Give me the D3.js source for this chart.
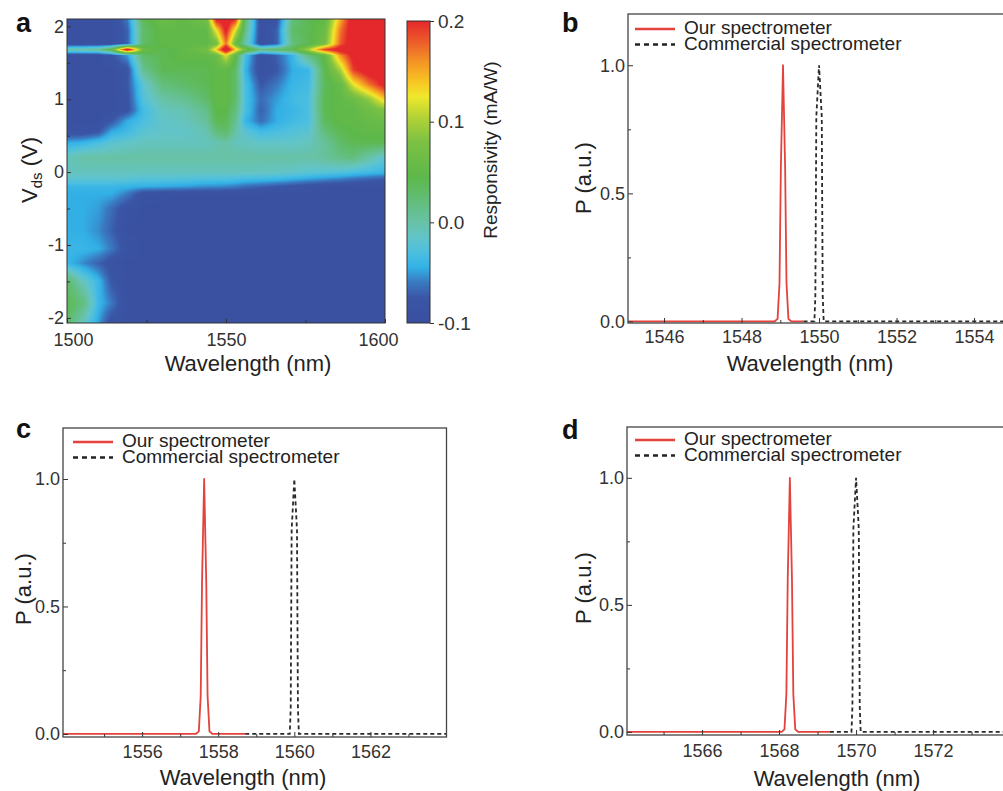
<!DOCTYPE html>
<meta charset="utf-8">
<script src="https://cdn.jsdelivr.net/npm/d3@7"></script>
<style>
	body{margin:0;background:#fff;}
	svg{font-family:"Liberation Sans",Arial,Helvetica,sans-serif;}
</style>
<svg id="fig" width="1003" height="791"></svg>
<script>
// ---------- panel a: responsivity map (grid) ----------
var wavelengths = [1500,1505,1510,1514,1519,1524,1530,1537,1544,1547,1550,1553,1556,1561,1566,1571,1576,1581,1586,1590,1595,1600]
var vds = [2.1,1.95,1.76,1.68,1.6,1.4,1.2,1.0,0.85,0.7,0.55,0.4,0.2,0.0,-0.1,-0.2,-0.3,-0.5,-0.8,-1.05,-1.25,-1.5,-1.8,-2.07]
// one row per vds value, one column per wavelength (mA/W)
var responsivity = [
	[-.09,-.09,-.09,-.09,-.06,.04,.06,.05,.07,.21,.22,.2,.03,-.09,-.08,.02,.04,.05,.15,.22,.22,.22],
	[-.09,-.09,-.09,-.09,-.07,.03,.05,.05,.05,.13,.21,.12,.02,-.09,-.07,.03,.04,.06,.17,.22,.22,.22],
	[-.09,-.09,-.09,-.09,-.07,.03,.05,.05,.05,.07,.17,.06,0,-.09,-.07,.02,.04,.07,.18,.22,.22,.22],
	[0,0,.01,.05,.23,.06,.04,.05,.07,.14,.24,.14,.07,.02,.03,.04,.1,.19,.22,.22,.22,.22],
	[-.09,-.09,-.09,-.08,-.05,.03,.04,.05,.05,.06,.12,.05,-.03,-.09,-.07,-.04,.02,.05,.16,.21,.22,.22],
	[-.09,-.09,-.09,-.09,-.08,.01,.04,.04,.04,.05,.05,.03,-.04,-.09,-.075,-.045,-.04,.04,.1,.19,.22,.22],
	[-.09,-.09,-.09,-.09,-.075,-.02,.02,.03,.04,.05,.05,.03,-.03,-.075,-.06,-.04,-.035,.035,.055,.12,.17,.21],
	[-.09,-.09,-.09,-.09,-.08,-.025,0,.01,.03,.05,.05,.03,-.03,-.065,-.05,-.035,-.03,.04,.05,.06,.09,.14],
	[-.09,-.09,-.09,-.09,-.08,-.035,-.01,-.005,.015,.045,.045,.02,-.03,-.07,-.045,-.04,-.03,.04,.05,.05,.065,.08],
	[-.09,-.09,-.09,-.075,-.045,-.03,-.015,-.01,.005,.04,.04,.01,-.04,-.065,-.045,-.035,-.03,.035,.05,.05,.055,.06],
	[-.085,-.085,-.075,-.045,-.035,-.02,-.015,-.015,-.005,.02,.03,0,-.02,-.035,-.03,-.025,-.02,.02,.04,.045,.05,.05],
	[-.045,-.04,-.03,-.02,-.015,-.01,-.01,-.01,-.01,-.005,0,-.01,-.01,-.015,-.015,-.015,-.01,.005,.03,.04,.04,.04],
	[-.01,0,0,0,0,0,0,0,0,0,0,0,0,0,0,0,0,.005,.015,.02,0,-.02],
	[-.01,-.01,-.01,-.01,-.01,-.01,-.01,-.01,-.01,-.01,-.01,-.01,-.01,-.01,-.012,-.015,-.02,-.022,-.025,-.03,-.035,-.04],
	[-.02,-.02,-.02,-.02,-.022,-.025,-.025,-.027,-.03,-.03,-.03,-.032,-.035,-.037,-.04,-.045,-.05,-.055,-.06,-.065,-.07,-.075],
	[-.04,-.04,-.04,-.04,-.042,-.045,-.047,-.05,-.055,-.055,-.057,-.06,-.065,-.07,-.075,-.08,-.085,-.09,-.09,-.09,-.09,-.09],
	[-.045,-.045,-.045,-.045,-.06,-.085,-.088,-.09,-.09,-.09,-.09,-.09,-.09,-.09,-.09,-.09,-.09,-.09,-.09,-.09,-.09,-.09],
	[-.045,-.045,-.05,-.065,-.085,-.09,-.09,-.09,-.09,-.09,-.09,-.09,-.09,-.09,-.09,-.09,-.09,-.09,-.09,-.09,-.09,-.09],
	[-.045,-.045,-.055,-.07,-.09,-.09,-.09,-.09,-.09,-.09,-.09,-.09,-.09,-.09,-.09,-.09,-.09,-.09,-.09,-.09,-.09,-.09],
	[-.04,-.04,-.045,-.06,-.085,-.09,-.09,-.09,-.09,-.09,-.09,-.09,-.09,-.09,-.09,-.09,-.09,-.09,-.09,-.09,-.09,-.09],
	[-.04,-.055,-.07,-.085,-.09,-.09,-.09,-.09,-.09,-.09,-.09,-.09,-.09,-.09,-.09,-.09,-.09,-.09,-.09,-.09,-.09,-.09],
	[.03,-.01,-.04,-.075,-.09,-.09,-.09,-.09,-.09,-.09,-.09,-.09,-.09,-.09,-.09,-.09,-.09,-.09,-.09,-.09,-.09,-.09],
	[.04,.02,-.04,-.06,-.09,-.09,-.09,-.09,-.09,-.09,-.09,-.09,-.09,-.09,-.09,-.09,-.09,-.09,-.09,-.09,-.09,-.09],
	[.03,-.01,-.05,-.085,-.09,-.09,-.09,-.09,-.09,-.09,-.09,-.09,-.09,-.09,-.09,-.09,-.09,-.09,-.09,-.09,-.09,-.09]
]
var colorStops = [-0.1,-0.075,-0.06,-0.045,-0.03,-0.015,0.0,0.02,0.045,0.08,0.105,0.125,0.14,0.16,0.18,0.2]
var colorHex = ["#3a4e9e","#3a56a6","#3a78c0","#32b0e6","#4cbfe0","#62c4c8","#68c2a6","#62be7c","#5db84a","#7cc143","#b5d335","#efe82c","#f8c423","#f39325","#ec5a2a","#e5282b"]
var cbarTicks = [-0.1,0.0,0.1,0.2]
var vdsTicks = [-2,-1,0,1,2]
var vdsMinor = [-1.5,-0.5,0.5,1.5]
var wlTicksA = [1500,1550,1600]
var wlMinorA = [1525,1575]

// ---------- panels b, c, d: spectra ----------
var bOurWl = [1545.07,1548.85,1548.93,1548.98,1549.015,1549.07,1549.125,1549.16,1549.21,1549.29,1549.6]
var bOurP  = [0,0,0.01,0.15,0.6,1,0.6,0.15,0.01,0,0]
var bComWl = [1549.6,1549.88,1549.905,1549.93,1550.0,1550.07,1550.095,1550.12,1555.07]
var bComP  = [0,0,0.1,0.8,1,0.8,0.1,0,0]
var cOurWl = [1553.92,1557.41,1557.49,1557.54,1557.575,1557.63,1557.685,1557.72,1557.77,1557.85,1558.71]
var cOurP  = [0,0,0.01,0.15,0.6,1,0.6,0.15,0.01,0,0]
var cComWl = [1558.71,1559.88,1559.905,1559.93,1560.0,1560.07,1560.095,1560.12,1564.0]
var cComP  = [0,0,0.1,0.8,1,0.8,0.1,0,0]
var dOurWl = [1564.05,1568.06,1568.14,1568.19,1568.225,1568.28,1568.335,1568.37,1568.42,1568.5,1569.32]
var dOurP  = [0,0,0.01,0.15,0.6,1,0.6,0.15,0.01,0,0]
var dComWl = [1569.32,1569.88,1569.905,1569.93,1570.0,1570.07,1570.095,1570.12,1574.05]
var dComP  = [0,0,0.1,0.8,1,0.8,0.1,0,0]
var pTicks = [0,0.5,1.0]
var pMinor = [0.25,0.75]

var svg = d3.select("#fig")
var RED = "#e3423d"

function panelLabel(t,x,y){
	svg.append("text").attr("x",x).attr("y",y).attr("font-size",27).attr("font-weight","bold").attr("fill","#111").text(t)
}
function styleAxis(g,fs){
	g.attr("font-family",null).attr("font-size",null)
	g.select(".domain").remove()
	g.selectAll("line").attr("stroke","#333").attr("stroke-width",1)
	g.selectAll("text").attr("font-size",fs||18).attr("fill","#333")
}

// ---- draw panel a ----
var xA = d3.scaleLinear().domain([1500,1600]).range([67,385])
var yA = d3.scaleLinear().domain([-2.07,2.1]).range([323,19])
var color = d3.scaleLinear().domain(colorStops).range(colorHex).clamp(true)

function sample(lam,v){
	var j = d3.bisectRight(wavelengths,lam)-1
	j = Math.max(0,Math.min(wavelengths.length-2,j))
	var tx = (lam-wavelengths[j])/(wavelengths[j+1]-wavelengths[j])
	var i = 0
	while(i<vds.length-2 && vds[i+1]>v) i++
	var ty = (vds[i]-v)/(vds[i]-vds[i+1])
	tx = Math.max(0,Math.min(1,tx)); ty = Math.max(0,Math.min(1,ty))
	var a = responsivity[i][j], b = responsivity[i][j+1]
	var c = responsivity[i+1][j], d = responsivity[i+1][j+1]
	return (a*(1-tx)+b*tx)*(1-ty)+(c*(1-tx)+d*tx)*ty
}

var W = 318, H = 304
var cv = document.createElement("canvas")
cv.width = W; cv.height = H
var ctx = cv.getContext("2d")
var img = ctx.createImageData(W,H)
for(var py=0; py<H; py++){
	for(var px=0; px<W; px++){
		var col = d3.rgb(color(sample(xA.invert(67+px+0.5),yA.invert(19+py+0.5))))
		var k = (py*W+px)*4
		img.data[k]=col.r; img.data[k+1]=col.g; img.data[k+2]=col.b; img.data[k+3]=255
	}
}
ctx.putImageData(img,0,0)
svg.append("image").attr("x",67).attr("y",19).attr("width",W).attr("height",H)
	.attr("preserveAspectRatio","none").attr("href",cv.toDataURL())

var gxA = svg.append("g").attr("transform","translate(0,323)")
	.call(d3.axisBottom(xA).tickValues(wlTicksA).tickSize(-4).tickPadding(10).tickFormat(function(d){return d}))
styleAxis(gxA)
gxA.selectAll("text").attr("dx",function(d){return d==1500?6:(d==1600?-7:0)})
var gxAm = svg.append("g").attr("transform","translate(0,323)")
	.call(d3.axisBottom(xA).tickValues(wlMinorA).tickSize(-3).tickFormat(""))
styleAxis(gxAm)
var gyA = svg.append("g").attr("transform","translate(67,0)")
	.call(d3.axisLeft(yA).tickValues(vdsTicks).tickSize(-4).tickPadding(3).tickFormat(function(d){return String(d)}))
styleAxis(gyA)
var gyAm = svg.append("g").attr("transform","translate(67,0)")
	.call(d3.axisLeft(yA).tickValues(vdsMinor).tickSize(-3).tickFormat(""))
styleAxis(gyAm)
svg.append("rect").attr("x",67).attr("y",19).attr("width",318).attr("height",304)
	.attr("fill","none").attr("stroke","#333").attr("stroke-width",1)

svg.append("text").attr("x",248).attr("y",371).attr("text-anchor","middle").attr("font-size",22).attr("fill","#222").text("Wavelength (nm)")
var vl = svg.append("text").attr("transform","translate(37,170) rotate(-90)").attr("text-anchor","middle").attr("font-size",22).attr("fill","#222")
vl.append("tspan").text("V")
vl.append("tspan").attr("font-size",15).attr("dy",5).text("ds")
vl.append("tspan").attr("dy",-5).text(" (V)")
panelLabel("a",16,32)

// colour bar
var yCb = d3.scaleLinear().domain([-0.1,0.2]).range([323,21])
var grad = svg.append("defs").append("linearGradient").attr("id","cb").attr("x1",0).attr("y1",1).attr("x2",0).attr("y2",0)
grad.selectAll("stop").data(colorStops).enter().append("stop")
	.attr("offset",function(d){return (d+0.1)/0.3})
	.attr("stop-color",function(d,i){return colorHex[i]})
svg.append("rect").attr("x",407).attr("y",yCb(0.2)).attr("width",23).attr("height",yCb(-0.1)-yCb(0.2))
	.attr("fill","url(#cb)").attr("stroke","#333").attr("stroke-width",1)
var gCb = svg.append("g").attr("transform","translate(430,0)")
	.call(d3.axisRight(yCb).tickValues(cbarTicks).tickSize(4).tickPadding(4).tickFormat(function(d){return d.toFixed(1)}))
styleAxis(gCb,19)
svg.append("text").attr("transform","translate(497,150) rotate(-90)").attr("text-anchor","middle")
	.attr("font-size",19).attr("fill","#222").text("Responsivity (mA/W)")

// ---- spectra panels ----
function spectrumPanel(cfg){
	var x = d3.scaleLinear().domain(cfg.xd).range([cfg.left,cfg.right])
	var y = d3.scaleLinear().domain([cfg.ymin,1.2]).range([cfg.bottom,cfg.top])
	var g = svg.append("g")
	var clipId = "clip"+cfg.label
	g.append("clipPath").attr("id",clipId).append("rect")
		.attr("x",cfg.left).attr("y",cfg.top).attr("width",cfg.right-cfg.left).attr("height",cfg.bottom-cfg.top)

	var line = d3.line().x(function(d){return x(d[0])}).y(function(d){return y(d[1])})
	g.append("path").datum(d3.zip(cfg.ourWl,cfg.ourP)).attr("d",line).attr("clip-path","url(#"+clipId+")")
		.attr("fill","none").attr("stroke",RED).attr("stroke-width",1.8).attr("stroke-linejoin","round")
	g.append("path").datum(d3.zip(cfg.comWl,cfg.comP)).attr("d",line).attr("clip-path","url(#"+clipId+")")
		.attr("fill","none").attr("stroke","#2a2a2a").attr("stroke-width",1.8).attr("stroke-dasharray","4,3")

	var pad = cfg.tickBase-cfg.bottom-12.8
	var gx = g.append("g").attr("transform","translate(0,"+cfg.bottom+")")
		.call(d3.axisBottom(x).tickValues(cfg.xt).tickSize(-5).tickPadding(pad).tickFormat(function(d){return d}))
	styleAxis(gx)
	var gxm = g.append("g").attr("transform","translate(0,"+cfg.bottom+")")
		.call(d3.axisBottom(x).tickValues(cfg.xm).tickSize(-3).tickFormat(""))
	styleAxis(gxm)
	var gy = g.append("g").attr("transform","translate("+cfg.left+",0)")
		.call(d3.axisLeft(y).tickValues(pTicks).tickSize(-5).tickPadding(3).tickFormat(function(d){return d.toFixed(1)}))
	styleAxis(gy)
	var gym = g.append("g").attr("transform","translate("+cfg.left+",0)")
		.call(d3.axisLeft(y).tickValues(pMinor).tickSize(-3).tickFormat(""))
	styleAxis(gym)
	g.append("rect").attr("x",cfg.left).attr("y",cfg.top).attr("width",cfg.right-cfg.left).attr("height",cfg.bottom-cfg.top)
		.attr("fill","none").attr("stroke","#444").attr("stroke-width",1.3)

	// legend
	g.append("line").attr("x1",cfg.legX).attr("x2",cfg.legX+40).attr("y1",cfg.legY).attr("y2",cfg.legY)
		.attr("stroke",RED).attr("stroke-width",2.5)
	g.append("line").attr("x1",cfg.legX).attr("x2",cfg.legX+40).attr("y1",cfg.legY+15.5).attr("y2",cfg.legY+15.5)
		.attr("stroke","#222").attr("stroke-width",2.5).attr("stroke-dasharray","5,4")
	g.append("text").attr("x",cfg.legX+49).attr("y",cfg.legY+5.3).attr("font-size",19).attr("fill","#222").text("Our spectrometer")
	g.append("text").attr("x",cfg.legX+49).attr("y",cfg.legY+21.3).attr("font-size",19).attr("fill","#222").text("Commercial spectrometer")

	g.append("text").attr("x",cfg.xTitleX).attr("y",cfg.xTitleY).attr("text-anchor","middle")
		.attr("font-size",22).attr("fill","#222").text("Wavelength (nm)")
	g.append("text").attr("transform","translate("+cfg.yTitleX+","+cfg.yTitleY+") rotate(-90)").attr("text-anchor","middle")
		.attr("font-size",22).attr("fill","#222").text("P (a.u.)")
	panelLabel(cfg.label,cfg.lx,cfg.ly)
}

spectrumPanel({label:"b",lx:562,ly:32,left:628,right:1015.5,xd:[1545.07,1555.07],top:14,bottom:323,ymin:-0.006,
	xt:[1546,1548,1550,1552,1554],xm:[1547,1549,1551,1553],tickBase:343,
	ourWl:bOurWl,ourP:bOurP,comWl:bComWl,comP:bComP,legX:635,legY:29,xTitleX:810,xTitleY:371,yTitleX:591,yTitleY:178})
spectrumPanel({label:"c",lx:16,ly:438,left:63,right:446.5,xd:[1553.92,1564],top:428,bottom:737,ymin:-0.012,
	xt:[1556,1558,1560,1562],xm:[1555,1557,1559,1561,1563],tickBase:758,
	ourWl:cOurWl,ourP:cOurP,comWl:cComWl,comP:cComP,legX:73,legY:442,xTitleX:243,xTitleY:785,yTitleX:31,yTitleY:589})
spectrumPanel({label:"d",lx:562,ly:439,left:627,right:1012,xd:[1564.05,1574.05],top:427,bottom:735,ymin:-0.012,
	xt:[1566,1568,1570,1572],xm:[1565,1567,1569,1571,1573],tickBase:757,
	ourWl:dOurWl,ourP:dOurP,comWl:dComWl,comP:dComP,legX:635,legY:440,xTitleX:837,xTitleY:786,yTitleX:591,yTitleY:588})
</script>
